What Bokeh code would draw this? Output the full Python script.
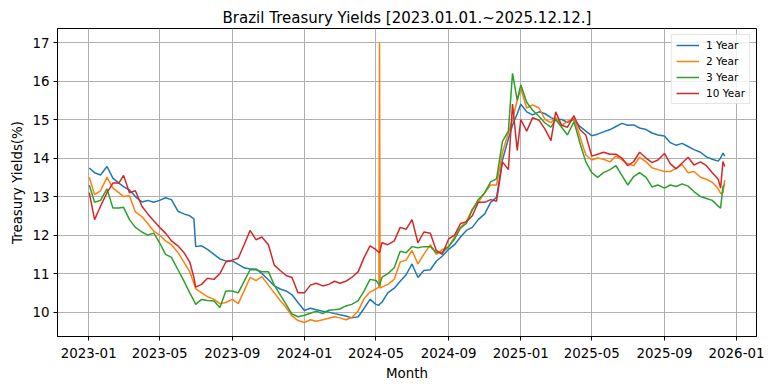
import pandas as pd
from bokeh.plotting import figure
from bokeh.models import Range1d, FixedTicker, DatetimeTickFormatter
from bokeh.embed import file_html
from bokeh.resources import INLINE

# ---------------- data ----------------
dates = [
    "2023-01-02", "2023-01-11", "2023-01-21", "2023-02-01", "2023-02-11", "2023-02-21",
    "2023-03-01", "2023-03-11", "2023-03-21", "2023-04-01", "2023-04-11", "2023-04-21",
    "2023-05-01", "2023-05-11", "2023-05-21", "2023-06-01", "2023-06-11", "2023-06-21",
    "2023-06-28", "2023-07-01", "2023-07-11", "2023-07-21", "2023-08-01", "2023-08-11",
    "2023-08-21", "2023-09-01", "2023-09-11", "2023-09-21", "2023-10-01", "2023-10-11",
    "2023-10-21", "2023-11-01", "2023-11-11", "2023-11-21", "2023-12-01", "2023-12-11",
    "2023-12-21",
    "2024-01-01", "2024-01-11", "2024-01-21", "2024-02-01", "2024-02-11", "2024-02-21",
    "2024-03-01", "2024-03-11", "2024-03-21", "2024-04-01", "2024-04-11", "2024-04-21",
    "2024-05-01", "2024-05-06", "2024-05-07", "2024-05-08", "2024-05-11", "2024-05-21",
    "2024-06-01", "2024-06-11", "2024-06-21", "2024-07-01", "2024-07-11", "2024-07-21",
    "2024-08-01", "2024-08-11", "2024-08-21", "2024-09-01", "2024-09-11", "2024-09-21",
    "2024-10-01", "2024-10-11", "2024-10-21", "2024-11-01", "2024-11-11", "2024-11-21",
    "2024-12-01", "2024-12-11", "2024-12-18", "2024-12-26",
    "2025-01-01", "2025-01-11", "2025-01-21", "2025-02-01", "2025-02-11", "2025-02-21",
    "2025-03-01", "2025-03-11", "2025-03-21", "2025-04-01", "2025-04-11", "2025-04-21",
    "2025-05-01", "2025-05-11", "2025-05-21", "2025-06-01", "2025-06-11", "2025-06-21",
    "2025-07-01", "2025-07-11", "2025-07-21", "2025-08-01", "2025-08-11", "2025-08-21",
    "2025-09-01", "2025-09-11", "2025-09-21", "2025-10-01", "2025-10-11", "2025-10-21",
    "2025-11-01", "2025-11-11", "2025-11-21", "2025-12-01", "2025-12-05", "2025-12-09",
    "2025-12-12",
]

yield_1y = [
    13.74, 13.62, 13.56, 13.78, 13.48, 13.35, 13.26, 13.17, 13.0, 12.86,
    12.9, 12.85, 12.9, 12.97, 12.92, 12.62, 12.55, 12.5, 12.42, 11.7,
    11.72, 11.63, 11.5, 11.38, 11.33, 11.33, 11.24, 11.15, 11.12, 11.12,
    11.0, 10.84, 10.68, 10.6, 10.55, 10.45, 10.25,
    10.04, 10.1, 10.06, 10.02, 10.0, 9.96, 9.93, 9.9, 9.85, 9.88,
    10.1, 10.33, 10.2, 10.18, 10.2, 10.22, 10.25, 10.5, 10.62, 10.8,
    10.97, 11.25, 10.9, 11.08, 11.1, 11.32, 11.45, 11.63, 11.75, 11.95,
    12.12, 12.2, 12.4, 12.55, 12.85, 12.98, 13.95, 14.5, 14.85, 15.15,
    15.4, 15.2, 15.12, 15.2, 15.15, 15.05, 15.0, 15.0, 14.93, 15.0,
    14.82, 14.7, 14.58, 14.62, 14.68, 14.74, 14.82, 14.9, 14.85, 14.86,
    14.78, 14.74, 14.65, 14.6, 14.57, 14.4, 14.33, 14.38, 14.3, 14.22,
    14.15, 14.03, 13.97, 13.92, 14.0, 14.13, 14.05,
]

yield_2y = [
    13.5, 13.05, 13.15, 13.5, 13.22, 13.1, 13.0, 13.02, 12.6, 12.48,
    12.3, 12.1, 12.0, 11.85, 11.75, 11.55, 11.3, 11.05, 10.75, 10.6,
    10.5, 10.4, 10.33, 10.22, 10.25, 10.33, 10.22, 10.55, 10.9, 10.82,
    10.92, 10.7, 10.5, 10.3, 10.12, 9.9, 9.78,
    9.73, 9.8, 9.76, 9.8, 9.84, 9.88, 9.85, 9.8, 9.86, 10.03,
    10.35, 10.52, 10.6, 10.65, 17.0, 10.62, 10.65, 10.72, 10.85, 11.3,
    11.35, 11.6, 11.25, 11.5, 11.75, 11.5, 11.62, 11.7, 11.95, 12.2,
    12.35, 12.68, 12.85, 13.1, 13.3, 13.3, 14.15, 14.65, 15.0, 15.5,
    15.8, 15.3, 15.38, 15.3, 15.0, 14.92, 15.05, 14.85, 14.95, 15.05,
    14.56, 14.08, 13.95, 14.0, 13.97, 13.9, 14.05, 13.95, 13.85, 13.8,
    14.02, 13.9, 13.75, 13.7, 13.65, 13.65, 13.74, 13.83, 13.62, 13.65,
    13.5, 13.45, 13.37, 13.2, 13.08, 13.1, 13.43,
]

yield_3y = [
    13.3, 12.85, 12.9, 13.2, 12.7, 12.7, 12.72, 12.4, 12.2, 12.08,
    12.0, 12.05, 11.8, 11.5, 11.42, 11.1, 10.81, 10.5, 10.3, 10.2,
    10.33, 10.3, 10.29, 10.12, 10.55, 10.55, 10.5, 10.8, 11.1, 11.1,
    11.05, 11.05, 10.7, 10.45, 10.2, 9.95, 9.88,
    9.92, 9.97, 10.02, 9.96, 10.05, 10.06, 10.08, 10.16, 10.2, 10.3,
    10.55, 10.85, 10.82, 10.72, 10.69, 10.75, 10.9, 11.0, 11.15, 11.58,
    11.54, 11.7, 11.67, 11.7, 11.7, 11.55, 11.55, 11.7, 11.9, 12.18,
    12.3, 12.65, 12.92, 13.1, 13.38, 13.46, 14.43, 14.7, 16.2, 15.5,
    15.9, 15.45, 15.24, 15.08, 14.91, 14.8, 15.0, 14.8, 14.6, 14.95,
    14.39, 13.9, 13.62, 13.5, 13.62, 13.7, 13.8, 13.55, 13.3, 13.52,
    13.62, 13.5, 13.25, 13.3, 13.22, 13.3, 13.26, 13.33, 13.27, 13.13,
    13.0, 12.95, 12.9, 12.75, 12.7, 13.26, 13.3,
]

yield_10y = [
    13.1, 12.4, 12.75, 13.1, 13.35, 13.35, 13.55, 13.1, 13.15, 12.75,
    12.55, 12.37, 12.2, 12.05, 11.85, 11.72, 11.55, 11.3, 10.9, 10.65,
    10.72, 10.88, 10.85, 11.0, 11.3, 11.35, 11.4, 11.75, 12.12, 11.88,
    11.95, 11.75, 11.22, 11.08, 10.95, 10.9, 10.5,
    10.5, 10.7, 10.75, 10.68, 10.72, 10.8, 10.75, 10.8, 10.9, 11.05,
    11.42, 11.72, 11.62, 11.55, 11.55, 11.6, 11.8, 11.75, 11.85, 12.2,
    12.15, 12.4, 11.8, 12.08, 12.05, 11.6, 11.5, 11.9, 12.0, 12.3,
    12.35, 12.5, 12.85, 12.85, 12.92, 12.88, 13.9, 13.7, 15.4, 14.2,
    15.0, 14.7, 15.05, 14.98, 14.75, 14.45, 15.2, 14.85, 14.8, 15.1,
    14.74, 14.6, 14.05, 14.1, 14.15, 14.1, 14.1, 14.0, 13.8, 13.91,
    14.15, 14.0, 13.88, 13.95, 14.12, 13.85, 13.72, 13.87, 14.02, 13.82,
    13.9, 13.8, 13.62, 13.45, 13.22, 13.91, 13.78,
]

series_names = ["1 Year", "2 Year", "3 Year", "10 Year"]
series_colors = ["#1f77b4", "#ff7f0e", "#2ca02c", "#d62728"]
x_tick_labels = ["2023-01", "2023-05", "2023-09", "2024-01", "2024-05",
                 "2024-09", "2025-01", "2025-05", "2025-09", "2026-01"]
y_ticks = [10, 11, 12, 13, 14, 15, 16, 17]

title_text = "Brazil Treasury Yields [2023.01.01.~2025.12.12.]"
x_label = "Month"
y_label = "Treasury Yields(%)"

# ---------------- figure ----------------
FONT = "DejaVu Sans"
dt = pd.to_datetime(dates)
span = dt.max() - dt.min()
x_lo = (dt.min() - span * 0.05).to_pydatetime()
x_hi = (dt.max() + span * 0.05).to_pydatetime()

all_vals = yield_1y + yield_2y + yield_3y + yield_10y
vmin, vmax = min(all_vals), max(all_vals)
vpad = (vmax - vmin) * 0.05

p = figure(
    width=772, height=390,
    x_axis_type="datetime",
    x_range=Range1d(x_lo, x_hi),
    y_range=Range1d(vmin - vpad, vmax + vpad),
    output_backend="svg", toolbar_location=None,
    min_border_left=57, min_border_right=16,
    min_border_top=28, min_border_bottom=54,
)

for name, col, vals in zip(series_names, series_colors,
                           [yield_1y, yield_2y, yield_3y, yield_10y]):
    p.line(dt, vals, line_color=col, line_width=1.5, legend_label=name)

# title
p.title.text = title_text
p.title.align = "center"
p.title.text_font = FONT
p.title.text_font_size = "15px"
p.title.text_font_style = "normal"
p.title.text_color = "black"
p.title.standoff = 4

# axes
p.xaxis.ticker = FixedTicker(ticks=[pd.Timestamp(t + "-01").timestamp() * 1000 for t in x_tick_labels])
p.xaxis.formatter = DatetimeTickFormatter(
    years="%Y-%m", months="%Y-%m", days="%Y-%m", hours="%Y-%m",
    hourmin="%Y-%m", minutes="%Y-%m", minsec="%Y-%m", seconds="%Y-%m",
    milliseconds="%Y-%m", microseconds="%Y-%m",
)
p.yaxis.ticker = FixedTicker(ticks=y_ticks)
p.xaxis.axis_label = x_label
p.yaxis.axis_label = y_label

for ax in (p.xaxis, p.yaxis):
    ax.major_label_text_font = FONT
    ax.major_label_text_font_size = "13.4px"
    ax.major_label_text_color = "black"
    ax.axis_label_text_font = FONT
    ax.axis_label_text_font_size = "13.4px"
    ax.axis_label_text_font_style = "normal"
    ax.axis_label_text_color = "black"
    ax.major_tick_out = 4
    ax.major_tick_in = 0
    ax.minor_tick_out = 0
    ax.minor_tick_in = 0
    ax.major_tick_line_color = "black"
    ax.axis_line_color = "black"
p.xaxis.major_label_standoff = 7
p.yaxis.major_label_standoff = 4
p.xaxis.axis_label_standoff = 5
p.yaxis.axis_label_standoff = 4

p.outline_line_color = "black"
p.outline_line_width = 1
p.outline_line_alpha = 1

p.xgrid.grid_line_color = "#b0b0b0"
p.ygrid.grid_line_color = "#b0b0b0"
p.xgrid.grid_line_width = 1
p.ygrid.grid_line_width = 1

# legend
lg = p.legend[0]
lg.location = "top_right"
lg.label_text_font = FONT
lg.label_text_font_size = "10.5px"
lg.label_text_color = "black"
lg.glyph_width = 23
lg.glyph_height = 12
lg.label_height = 12
lg.label_standoff = 7
lg.spacing = 4
lg.padding = 4
lg.margin = 6
lg.border_line_color = "#cccccc"
lg.background_fill_alpha = 0.8

p.background_fill_color = "white"
p.border_fill_color = "white"

open("out.html", "w").write(file_html(p, INLINE))
